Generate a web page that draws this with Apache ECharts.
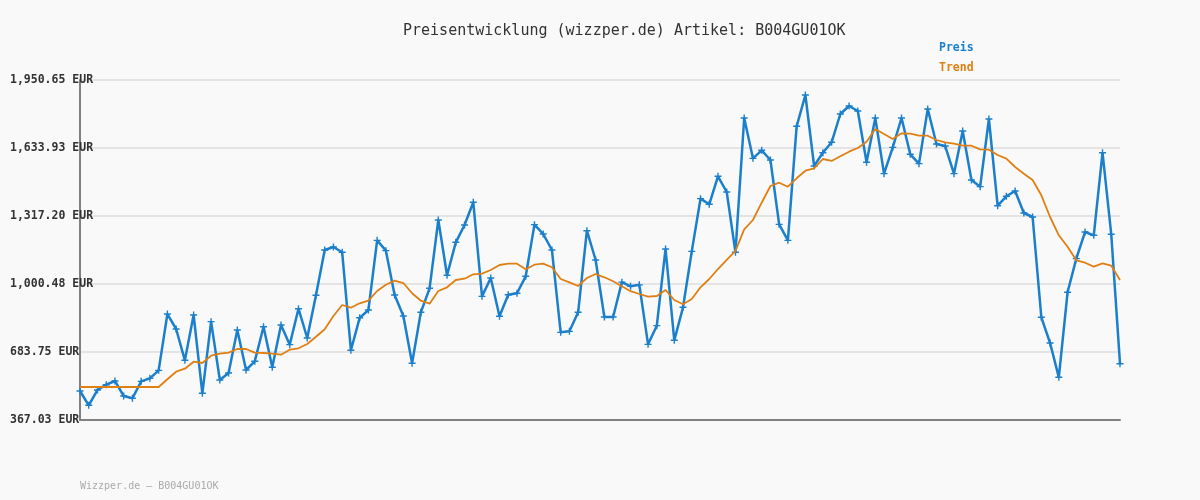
<!DOCTYPE html>
<html>
<head>
<meta charset="utf-8">
<script src="https://cdn.jsdelivr.net/npm/echarts@6/dist/echarts.min.js"></script>
<style>
html,body{margin:0;padding:0;background:#f9f9f9;}
#chart{width:1200px;height:500px;}
</style>
</head>
<body>
<div id="chart"></div>
<script>
var titleText = 'Preisentwicklung (wizzper.de) Artikel: B004GU01OK';
var footerText = 'Wizzper.de \u2013 B004GU01OK';
var seriesNames = ['Preis', 'Trend'];

var categories = ['1','2','3','4','5','6','7','8','9','10','11','12','13','14','15','16','17','18','19','20',
'21','22','23','24','25','26','27','28','29','30','31','32','33','34','35','36','37','38','39','40',
'41','42','43','44','45','46','47','48','49','50','51','52','53','54','55','56','57','58','59','60',
'61','62','63','64','65','66','67','68','69','70','71','72','73','74','75','76','77','78','79','80',
'81','82','83','84','85','86','87','88','89','90','91','92','93','94','95','96','97','98','99','100',
'101','102','103','104','105','106','107','108','109','110','111','112','113','114','115','116','117','118','119','120'];

var preis = [502.1, 435.4, 506.8, 531.5, 548.7, 478.8, 468.1, 547.1, 561.0, 598.3,
860.7, 790.9, 645.0, 856.1, 491.4, 825.0, 553.3, 585.9, 786.2, 599.9,
640.4, 801.6, 612.5, 809.5, 718.0, 885.4, 748.9, 947.8, 1158.8, 1172.8,
1148.1, 691.7, 843.0, 879.4, 1203.8, 1155.7, 949.2, 851.4, 631.1, 868.6,
980.4, 1298.6, 1041.0, 1194.6, 1275.3, 1381.0, 943.0, 1028.4, 850.0, 950.7,
957.2, 1036.3, 1276.9, 1233.3, 1158.8, 775.3, 780.0, 868.6, 1248.8, 1112.3,
846.8, 846.8, 1009.0, 989.6, 996.6, 719.5, 806.4, 1163.5, 738.2, 891.9,
1152.6, 1397.9, 1371.6, 1502.1, 1429.0, 1148.1, 1773.7, 1585.8, 1623.1, 1578.0,
1278.4, 1203.8, 1735.0, 1880.8, 1550.0, 1612.0, 1660.4, 1792.3, 1829.5, 1806.3,
1567.3, 1773.7, 1514.4, 1637.0, 1773.7, 1604.5, 1561.0, 1815.6, 1652.6, 1643.2,
1514.4, 1713.3, 1484.9, 1453.8, 1769.0, 1365.2, 1409.0, 1433.6, 1331.2, 1312.5,
845.3, 725.7, 565.8, 961.8, 1118.5, 1242.7, 1227.3, 1612.0, 1232.0, 629.3];

var trend = [520.7, 520.7, 520.7, 520.7, 520.7, 520.7, 520.7, 520.7, 520.7, 520.7,
556.6, 592.0, 606.0, 638.6, 632.5, 666.5, 675.8, 680.5, 697.7, 697.7,
680.5, 679.1, 675.8, 671.2, 694.5, 701.0, 721.0, 755.0, 789.5, 851.4,
902.7, 890.1, 910.6, 922.7, 967.9, 997.2, 1015.9, 1005.1, 957.2, 922.7,
908.7, 967.9, 985.1, 1019.1, 1025.2, 1045.6, 1048.5, 1065.7, 1089.0, 1095.0,
1095.0, 1068.9, 1090.4, 1095.0, 1078.3, 1023.8, 1008.4, 991.2, 1028.4, 1047.1,
1031.7, 1013.1, 990.0, 967.0, 953.9, 941.3, 944.6, 972.5, 925.9, 905.9,
930.6, 985.1, 1023.8, 1070.3, 1112.3, 1154.2, 1255.2, 1298.6, 1379.1, 1456.9,
1472.3, 1453.7, 1492.8, 1528.2, 1539.3, 1582.7, 1573.4, 1595.3, 1616.7, 1633.9,
1663.3, 1722.4, 1699.1, 1675.9, 1702.4, 1700.5, 1691.2, 1691.2, 1671.2, 1660.5,
1653.9, 1644.6, 1644.6, 1627.9, 1626.0, 1601.3, 1584.1, 1545.4, 1514.2, 1484.9,
1413.6, 1312.5, 1227.3, 1174.2, 1110.9, 1099.7, 1081.1, 1096.9, 1085.7, 1019.1];

var yTickValues = [367.03, 683.754, 1000.478, 1317.202, 1633.926, 1950.65];
var yTickLabels = ['367.03 EUR', '683.75 EUR', '1,000.48 EUR', '1,317.20 EUR', '1,633.93 EUR', '1,950.65 EUR'];

var MONO = '"DejaVu Sans Mono", "Liberation Mono", monospace';
var BLUE = '#1b7fcc';
var ORANGE = '#e07f12';

var chart = echarts.init(document.getElementById('chart'), null, {renderer: 'canvas'});
var yMin = yTickValues[0];
var yMax = yTickValues[yTickValues.length - 1];
var yInterval = (yMax - yMin) / (yTickValues.length - 1);

chart.setOption({
  backgroundColor: '#f9f9f9',
  animation: false,
  title: {
    text: titleText,
    left: 398,
    top: 19,
    textStyle: {fontFamily: MONO, fontSize: 15, fontWeight: 'normal', color: '#333333'}
  },
  legend: {
    orient: 'vertical',
    left: 929,
    top: 37,
    itemGap: 8,
    itemWidth: 0,
    itemHeight: 0,
    selectedMode: false,
    data: [
      {name: seriesNames[0], icon: 'none', textStyle: {color: BLUE}},
      {name: seriesNames[1], icon: 'none', textStyle: {color: ORANGE}}
    ],
    textStyle: {fontFamily: MONO, fontSize: 11.5, fontWeight: 'bold'}
  },
  grid: {left: 80, right: 80, top: 80, bottom: 80, containLabel: false},
  xAxis: {
    type: 'category',
    data: categories,
    boundaryGap: false,
    axisLine: {show: true, onZero: false, lineStyle: {color: '#808080', width: 2}},
    axisTick: {show: false},
    axisLabel: {show: false},
    splitLine: {show: false},
    z: 5
  },
  yAxis: {
    type: 'value',
    min: yMin,
    max: yMax,
    interval: yInterval,
    axisLine: {show: true, lineStyle: {color: '#808080', width: 2}},
    axisTick: {show: false},
    splitLine: {show: true, lineStyle: {color: '#e4e4e4', width: 2}},
    axisLabel: {
      show: true,
      align: 'left',
      margin: 70,
      fontFamily: MONO,
      fontSize: 11.5,
      fontWeight: 'bold',
      color: '#333333',
      formatter: function (v, i) { return yTickLabels[i]; }
    }
  },
  graphic: [{
    type: 'text',
    left: 80,
    top: 481,
    style: {text: footerText, fontFamily: MONO, fontSize: 10, fill: '#aaaaaa'}
  }],
  series: [
    {
      name: seriesNames[0],
      type: 'line',
      data: preis,
      symbol: 'path://M2,0 L3,0 L3,2 L5,2 L5,3 L3,3 L3,5 L2,5 L2,3 L0,3 L0,2 L2,2 Z',
      symbolSize: 7,
      showSymbol: true,
      showAllSymbol: true,
      itemStyle: {color: BLUE},
      lineStyle: {color: BLUE, width: 2.5},
      z: 2
    },
    {
      name: seriesNames[1],
      type: 'line',
      data: trend,
      symbol: 'none',
      itemStyle: {color: ORANGE},
      lineStyle: {color: ORANGE, width: 1.8},
      z: 3
    }
  ]
});
</script>
</body>
</html>
